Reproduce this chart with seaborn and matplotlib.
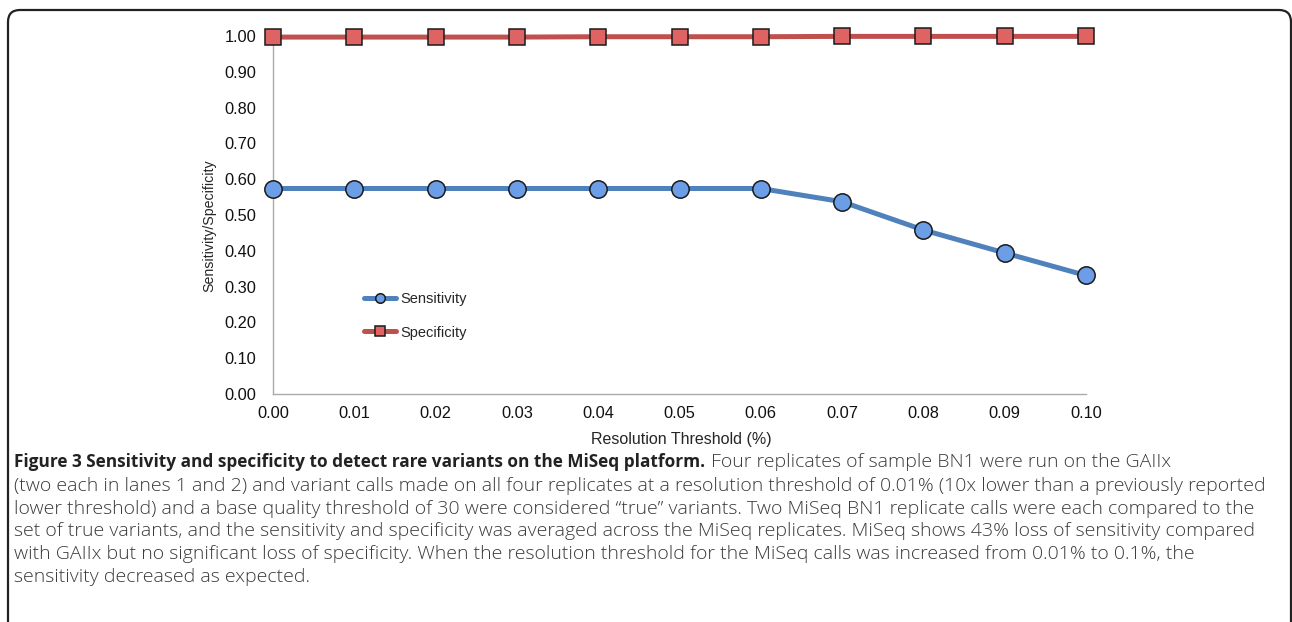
import matplotlib
matplotlib.use("Agg")
import matplotlib.pyplot as plt
import seaborn as sns
import pandas as pd
from matplotlib.path import Path
from matplotlib.patches import PathPatch

# data
thresholds = [0.00, 0.01, 0.02, 0.03, 0.04, 0.05, 0.06, 0.07, 0.08, 0.09, 0.10]
sensitivity = [0.574, 0.574, 0.574, 0.574, 0.574, 0.574, 0.574, 0.537, 0.458, 0.394, 0.331]
specificity = [0.997, 0.997, 0.997, 0.997, 0.998, 0.998, 0.998, 0.999, 0.999, 0.999, 0.999]
x_ticks = [0.00, 0.01, 0.02, 0.03, 0.04, 0.05, 0.06, 0.07, 0.08, 0.09, 0.10]
y_ticks = [0.0, 0.1, 0.2, 0.3, 0.4, 0.5, 0.6, 0.7, 0.8, 0.9, 1.0]

caption_bold = "Figure 3 Sensitivity and specificity to detect rare variants on the MiSeq platform."
caption_lines = [
    "Four replicates of sample BN1 were run on the GAIIx",
    "(two each in lanes 1 and 2) and variant calls made on all four replicates at a resolution threshold of 0.01% (10x lower than a previously reported",
    "lower threshold) and a base quality threshold of 30 were considered \u201ctrue\u201d variants. Two MiSeq BN1 replicate calls were each compared to the",
    "set of true variants, and the sensitivity and specificity was averaged across the MiSeq replicates. MiSeq shows 43% loss of sensitivity compared",
    "with GAIIx but no significant loss of specificity. When the resolution threshold for the MiSeq calls was increased from 0.01% to 0.1%, the",
    "sensitivity decreased as expected.",
]

df = pd.DataFrame({"threshold": thresholds, "Sensitivity": sensitivity, "Specificity": specificity})

sns.set_style("white")
plt.rcParams["font.family"] = ["Liberation Sans", "DejaVu Sans"]

fig = plt.figure(figsize=(12.92, 6.22), dpi=100)
ax = fig.add_axes([0.2113, 0.3666, 0.6293, 0.5755])

blue_line = "#4f81bd"
red_line = "#c0504d"

sns.lineplot(data=df, x="threshold", y="Sensitivity", ax=ax, color=blue_line, linewidth=3.6,
             marker="o", markersize=12.5, markerfacecolor="#6b9ee6", markeredgecolor="#1a1a1a",
             markeredgewidth=1.1, label="Sensitivity", clip_on=False, zorder=3)
sns.lineplot(data=df, x="threshold", y="Specificity", ax=ax, color=red_line, linewidth=3.6,
             marker="s", markersize=12, markerfacecolor="#e06363", markeredgecolor="#1a1a1a",
             markeredgewidth=1.1, label="Specificity", clip_on=False, zorder=3)

ax.set_xlim(0, 0.10)
ax.set_ylim(0, 1.0)
ax.set_xticks(x_ticks)
ax.set_xticklabels([f"{v:.2f}" for v in x_ticks])
ax.set_yticks(y_ticks)
ax.set_yticklabels([f"{v:.2f}" for v in y_ticks])
ax.tick_params(axis="both", labelsize=11.8, colors="#111111")
ax.tick_params(axis="x", direction="out", length=4, width=0.8, color="#aaaaaa", pad=5)
ax.tick_params(axis="y", direction="in", length=4, width=0.8, color="#cccccc", pad=12)
for s in ["top", "right"]:
    ax.spines[s].set_visible(False)
for s in ["left", "bottom"]:
    ax.spines[s].set_color("#aaaaaa")
    ax.spines[s].set_linewidth(1.0)

ax.set_xlabel("Resolution Threshold (%)", fontsize=11.5)
ax.set_ylabel("Sensitivity/Specificity", fontsize=10.2)
ax.xaxis.set_label_coords(0.502, -0.105)
ax.yaxis.set_label_coords(-0.07, 0.47)

leg = ax.legend(loc="upper left", bbox_to_anchor=(0.096, 0.322), frameon=False, fontsize=10.5,
                handlelength=2.2, labelspacing=1.35, handletextpad=0.3, markerscale=0.55)

# frame around the figure + caption (open at the bottom), in pixel coords
r = 12
top, left, right = 612, 8, 1291
verts = [(left, -10), (left, top - r), (left, top), (left + r, top),
         (right - r, top), (right, top), (right, top - r), (right, -10)]
codes = [Path.MOVETO, Path.LINETO, Path.CURVE3, Path.CURVE3,
         Path.LINETO, Path.CURVE3, Path.CURVE3, Path.LINETO]
frame = PathPatch(Path(verts, codes), transform=None, facecolor="none",
                  edgecolor="#222222", linewidth=1.6)
fig.add_artist(frame)

cap_font = ["Open Sans", "DejaVu Sans"]
cap_size = 14.0
y0 = 1 - 462 / 622
t1 = fig.text(14 / 1292, y0, caption_bold, fontsize=12.45, fontweight="bold",
              family=cap_font, va="center", color="#222222")
ann = ax.annotate(caption_lines[0], xy=(1, 0.5), xycoords=t1, xytext=(6, 0),
                  textcoords="offset pixels", va="center", ha="left", fontsize=cap_size,
                  family=cap_font, fontweight="light", color="#3a3a3a", annotation_clip=False)
line_y = [486, 509, 531, 554, 577]
for txt, yy in zip(caption_lines[1:], line_y):
    fig.text(14 / 1292, 1 - yy / 622, txt, fontsize=cap_size, family=cap_font, fontweight="light",
             va="center", color="#3a3a3a")

fig.savefig("out.png", dpi=100)
